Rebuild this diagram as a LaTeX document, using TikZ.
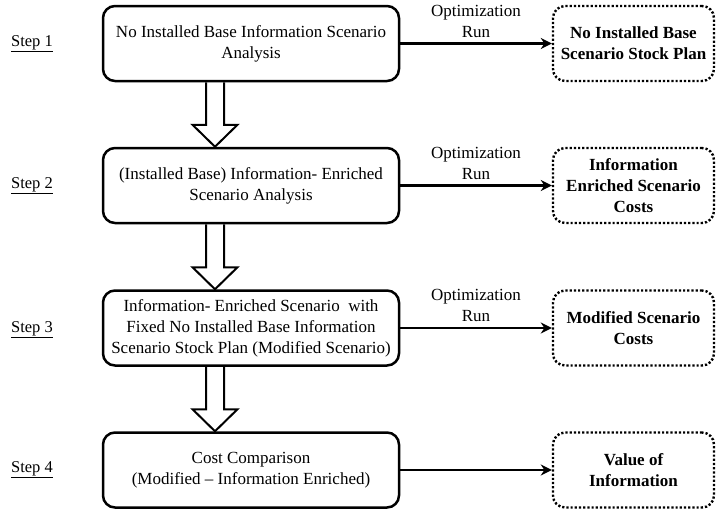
\documentclass[tikz,border=0pt]{standalone}
\usepackage{fontspec}
\setmainfont{Liberation Serif}
\usetikzlibrary{arrows.meta,calc}

\newcommand\boxfont{\fontsize{17}{21}\selectfont}
\newcommand\labelfont{\fontsize{16.5}{20}\selectfont}

% hollow block arrow pointing down from one coordinate to another
\newcommand\hollowdown[2]{%
  \draw[hollow] let \p1=(#1), \p2=(#2) in
    (\x1-9pt,\y1) -- (\x1-9pt,\y2+22pt) -- (\x1-22.5pt,\y2+22pt) -- (\x1,\y2)
    -- (\x1+22.5pt,\y2+22pt) -- (\x1+9pt,\y2+22pt) -- (\x1+9pt,\y1);}

\tikzset{
  stepbox/.style={draw, line width=2.5pt, rounded corners=12pt,
    minimum width=296pt, minimum height=75pt, inner sep=0pt,
    align=center, font=\boxfont},
  resultbox/.style={draw, line width=2.4pt, dash pattern=on 2.2pt off 2pt,
    rounded corners=12pt, minimum width=161pt, minimum height=75pt,
    inner sep=0pt, align=center, font=\boxfont\bfseries},
  steplabel/.style={font=\labelfont, inner sep=0pt},
  flow/.style={line width=2.6pt, -{Stealth[length=11pt,width=11pt]}},
  runlabel/.style={font=\boxfont, align=center, inner sep=0pt, above=5pt},
  hollow/.style={line width=2pt, line join=miter}
}

\begin{document}
\begin{tikzpicture}[x=1pt,y=-1pt]
  \useasboundingbox (0,0) rectangle (717,512);

  % main analysis steps
  \node[stepbox] (b1) at (251,43.5) {No Installed Base Information Scenario\\Analysis};
  \node[stepbox] (b2) at (251,185.5) {(Installed Base) Information- Enriched\\Scenario Analysis};
  \node[stepbox] (b3) at (251,328) {Information- Enriched Scenario\ \ with\\Fixed No Installed Base Information\\Scenario Stock Plan (Modified Scenario)};
  \node[stepbox] (b4) at (251,470) {Cost Comparison\\(Modified -- Information Enriched)};

  % results
  \node[resultbox] (r1) at (633.5,43.5) {No Installed Base\\Scenario Stock Plan};
  \node[resultbox] (r2) at (633.5,185.5) {Information\\Enriched Scenario\\Costs};
  \node[resultbox] (r3) at (633.5,328) {Modified Scenario\\Costs};
  \node[resultbox] (r4) at (633.5,470) {Value of\\Information};

  % step labels
  \node[steplabel] (s1) at (32,43.5) {\underline{Step 1}};
  \node[steplabel] (s2) at (32,186) {\underline{Step 2}};
  \node[steplabel] (s3) at (32,330) {\underline{Step 3}};
  \node[steplabel] (s4) at (32,470) {\underline{Step 4}};

  % optimization runs
  \draw[flow] (b1.east) -- node[runlabel] {Optimization\\Run} (r1.west);
  \draw[flow] (b2.east) -- node[runlabel] {Optimization\\Run} (r2.west);
  \draw[flow] (b3.east) -- node[runlabel] {Optimization\\Run} (r3.west);
  \draw[flow] (b4.east) -- (r4.west);

  % block arrows between steps
  \coordinate (h1s) at ($(b1.south)+(-36,0)$);
  \coordinate (h1e) at ($(b2.north)+(-36,0)$);
  \coordinate (h2s) at ($(b2.south)+(-36,0)$);
  \coordinate (h2e) at ($(b3.north)+(-36,0)$);
  \coordinate (h3s) at ($(b3.south)+(-36,0)$);
  \coordinate (h3e) at ($(b4.north)+(-36,0)$);
  \hollowdown{h1s}{h1e}
  \hollowdown{h2s}{h2e}
  \hollowdown{h3s}{h3e}
\end{tikzpicture}
\end{document}
